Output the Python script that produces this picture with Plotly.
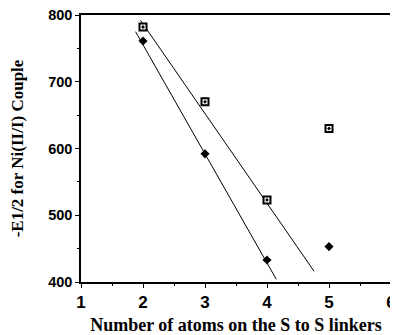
import plotly.graph_objects as go

atoms = [2, 3, 4, 5]
square_vals = [782, 670, 523, 630]
diamond_vals = [761, 592, 433, 453]

# fitted lines as drawn (endpoints)
sq_line_x = [1.96, 4.76]
sq_line_y = [792, 416]
di_line_x = [1.88, 4.15]
di_line_y = [775, 404]

x_ticks = [1, 2, 3, 4, 5, 6]
y_ticks = [400, 500, 600, 700, 800]

fig = go.Figure()
fig.add_trace(go.Scatter(x=sq_line_x, y=sq_line_y, mode="lines",
                         line=dict(color="black", width=1), showlegend=False))
fig.add_trace(go.Scatter(x=di_line_x, y=di_line_y, mode="lines",
                         line=dict(color="black", width=1), showlegend=False))
fig.add_trace(go.Scatter(x=atoms, y=square_vals, mode="markers",
                         marker=dict(symbol="square-dot", size=7, color="white",
                                     line=dict(color="black", width=2)),
                         showlegend=False))
fig.add_trace(go.Scatter(x=atoms, y=diamond_vals, mode="markers",
                         marker=dict(symbol="diamond", size=7, color="black"),
                         showlegend=False))

axis_common = dict(showgrid=False, zeroline=False, showline=True, linecolor="black",
                   linewidth=1.5, mirror=True, ticks="outside", ticklen=4,
                   tickcolor="black", tickwidth=1, automargin=False,
                   ticklabeloverflow="allow")

fig.update_xaxes(range=[1, 6], tickvals=x_ticks, ticktext=[str(v) for v in x_ticks],
                 tickfont=dict(family="Liberation Sans, Arial", size=17, color="black",
                               weight="bold"),
                 minor=dict(dtick=0.5, ticks="outside", ticklen=2, tickcolor="black"),
                 title=dict(text="Number of atoms on the S to S linkers",
                            font=dict(family="Liberation Serif, Times New Roman", size=18,
                                      color="black", weight="bold"),
                            standoff=18),
                 **axis_common)
fig.update_yaxes(range=[400, 800], tickvals=y_ticks, ticktext=[str(v) for v in y_ticks],
                 tickfont=dict(family="Liberation Sans, Arial", size=14.5, color="black",
                               weight="bold"),
                 minor=dict(dtick=50, ticks="outside", ticklen=2, tickcolor="black"),
                 title=dict(text="-E1/2 for Ni(II/I) Couple",
                            font=dict(family="Liberation Serif, Times New Roman", size=17,
                                      color="black", weight="bold"),
                            standoff=36),
                 **axis_common)

# the page body has an 8px margin, so the figure is sized/offset to compensate
fig.update_layout(width=390, height=327, margin=dict(l=73, r=7, t=7, b=53),
                  plot_bgcolor="white", paper_bgcolor="white")

fig.write_html("out.html")
